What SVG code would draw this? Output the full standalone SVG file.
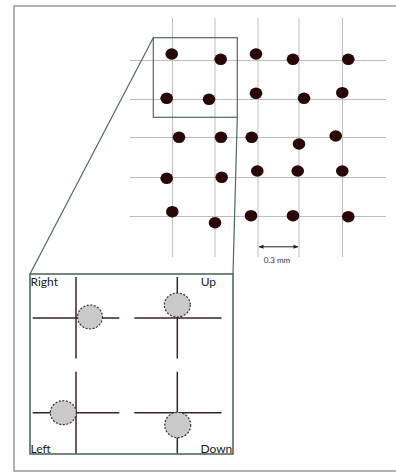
<svg xmlns="http://www.w3.org/2000/svg" width="396" height="472" viewBox="0 0 396 472">
<defs>
<style>
.grid{stroke:#bdbdbd;stroke-width:1;fill:none}
.dot{fill:#2a0707}
.cross{stroke:#3b2224;stroke-width:1.5;fill:none}
.spot{fill:#c9c9c9;stroke:#333;stroke-width:1.2;stroke-dasharray:2 1.6}
.lbl{font-family:Lato,"Open Sans",sans-serif;font-size:12px;fill:#1a1a1a}
.frame{stroke:#4f6a5e;stroke-width:1.2;fill:none}
</style>
<marker id="ar" viewBox="0 0 10 10" refX="9" refY="5" markerWidth="6" markerHeight="5" orient="auto-start-reverse">
<path d="M0,1 L10,5 L0,9 z" fill="#222"/>
</marker>
</defs>
<rect x="14" y="6" width="392" height="465" fill="#fff" stroke="#9a9a9a" stroke-width="1.5"/>
<g id="grid">
<line class="grid" x1="172.5" y1="18" x2="172.5" y2="257"/>
<line class="grid" x1="215" y1="18" x2="215" y2="257"/>
<line class="grid" x1="258" y1="18" x2="258" y2="257"/>
<line class="grid" x1="299" y1="18" x2="299" y2="257"/>
<line class="grid" x1="342.5" y1="18" x2="342.5" y2="257"/>
<line class="grid" x1="130" y1="60.5" x2="386" y2="60.5"/>
<line class="grid" x1="130" y1="99.5" x2="386" y2="99.5"/>
<line class="grid" x1="130" y1="137.5" x2="386" y2="137.5"/>
<line class="grid" x1="130" y1="177.5" x2="386" y2="177.5"/>
<line class="grid" x1="130" y1="216.5" x2="386" y2="216.5"/>
</g>
<g id="dots">
<ellipse class="dot" cx="171.7" cy="54" rx="6.3" ry="5.8"/>
<ellipse class="dot" cx="220.7" cy="59.3" rx="6.3" ry="5.8"/>
<ellipse class="dot" cx="256" cy="54" rx="6.3" ry="5.8"/>
<ellipse class="dot" cx="293" cy="59.3" rx="6.3" ry="5.8"/>
<ellipse class="dot" cx="348.3" cy="59.3" rx="6.3" ry="5.8"/>
<ellipse class="dot" cx="166.7" cy="98.3" rx="6.3" ry="5.8"/>
<ellipse class="dot" cx="209" cy="99.3" rx="6.3" ry="5.8"/>
<ellipse class="dot" cx="256" cy="93.3" rx="6.3" ry="5.8"/>
<ellipse class="dot" cx="304" cy="98.3" rx="6.3" ry="5.8"/>
<ellipse class="dot" cx="342.3" cy="92.7" rx="6.3" ry="5.8"/>
<ellipse class="dot" cx="179" cy="137.3" rx="6.3" ry="5.8"/>
<ellipse class="dot" cx="221" cy="137.3" rx="6.3" ry="5.8"/>
<ellipse class="dot" cx="251.7" cy="137.3" rx="6.3" ry="5.8"/>
<ellipse class="dot" cx="299" cy="144" rx="6.3" ry="5.8"/>
<ellipse class="dot" cx="335.7" cy="136" rx="6.3" ry="5.8"/>
<ellipse class="dot" cx="166.7" cy="178.3" rx="6.3" ry="5.8"/>
<ellipse class="dot" cx="221.7" cy="177.3" rx="6.3" ry="5.8"/>
<ellipse class="dot" cx="257.3" cy="171" rx="6.3" ry="5.8"/>
<ellipse class="dot" cx="297.7" cy="171" rx="6.3" ry="5.8"/>
<ellipse class="dot" cx="342.3" cy="171" rx="6.3" ry="5.8"/>
<ellipse class="dot" cx="172.3" cy="211.7" rx="6.3" ry="5.8"/>
<ellipse class="dot" cx="215" cy="222.7" rx="6.3" ry="5.8"/>
<ellipse class="dot" cx="251" cy="215.7" rx="6.3" ry="5.8"/>
<ellipse class="dot" cx="293" cy="215.7" rx="6.3" ry="5.8"/>
<ellipse class="dot" cx="348.3" cy="216.7" rx="6.3" ry="5.8"/>
</g>
<g id="scale">
<line x1="259" y1="246.8" x2="298" y2="246.8" stroke="#222" stroke-width="1" marker-start="url(#ar)" marker-end="url(#ar)"/>
<text x="277" y="262.5" text-anchor="middle" font-family="Lato,'Open Sans',sans-serif" font-size="8" fill="#333">0.3 mm</text>
</g>
<g id="connectors">
<rect class="frame" x="153.3" y="37.7" width="84" height="79.6"/>
<line class="frame" x1="153.3" y1="37.7" x2="30" y2="274"/>
<line class="frame" x1="237.3" y1="117.3" x2="233" y2="274"/>
</g>
<g id="inset">
<rect x="30" y="274" width="203" height="180" fill="#fff" stroke="#4f6a5e" stroke-width="1.6"/>
<g id="right">
<line class="cross" x1="76" y1="277" x2="76" y2="358.5"/>
<line class="cross" x1="32.7" y1="318" x2="119.3" y2="318"/>
<ellipse class="spot" cx="90" cy="317" rx="12.5" ry="12"/>
<text class="lbl" x="30.5" y="286.3">Right</text>
</g>
<g id="up">
<line class="cross" x1="177.3" y1="277" x2="177.3" y2="358.5"/>
<line class="cross" x1="134.3" y1="318" x2="221.5" y2="318"/>
<ellipse class="spot" cx="177.3" cy="305" rx="13" ry="12"/>
<text class="lbl" x="216" y="286.3" text-anchor="end">Up</text>
</g>
<g id="left">
<line class="cross" x1="76" y1="371.7" x2="76" y2="453.3"/>
<line class="cross" x1="32.7" y1="412.7" x2="119.3" y2="412.7"/>
<ellipse class="spot" cx="63.3" cy="412.7" rx="13" ry="12"/>
<text class="lbl" x="30.5" y="452.7">Left</text>
</g>
<g id="down">
<line class="cross" x1="177.3" y1="371.7" x2="177.3" y2="453.3"/>
<line class="cross" x1="134.3" y1="412.7" x2="221.5" y2="412.7"/>
<ellipse class="spot" cx="177.7" cy="425" rx="13" ry="12.7"/>
<text class="lbl" x="232.3" y="452.7" text-anchor="end">Down</text>
</g>
</g>
</svg>
